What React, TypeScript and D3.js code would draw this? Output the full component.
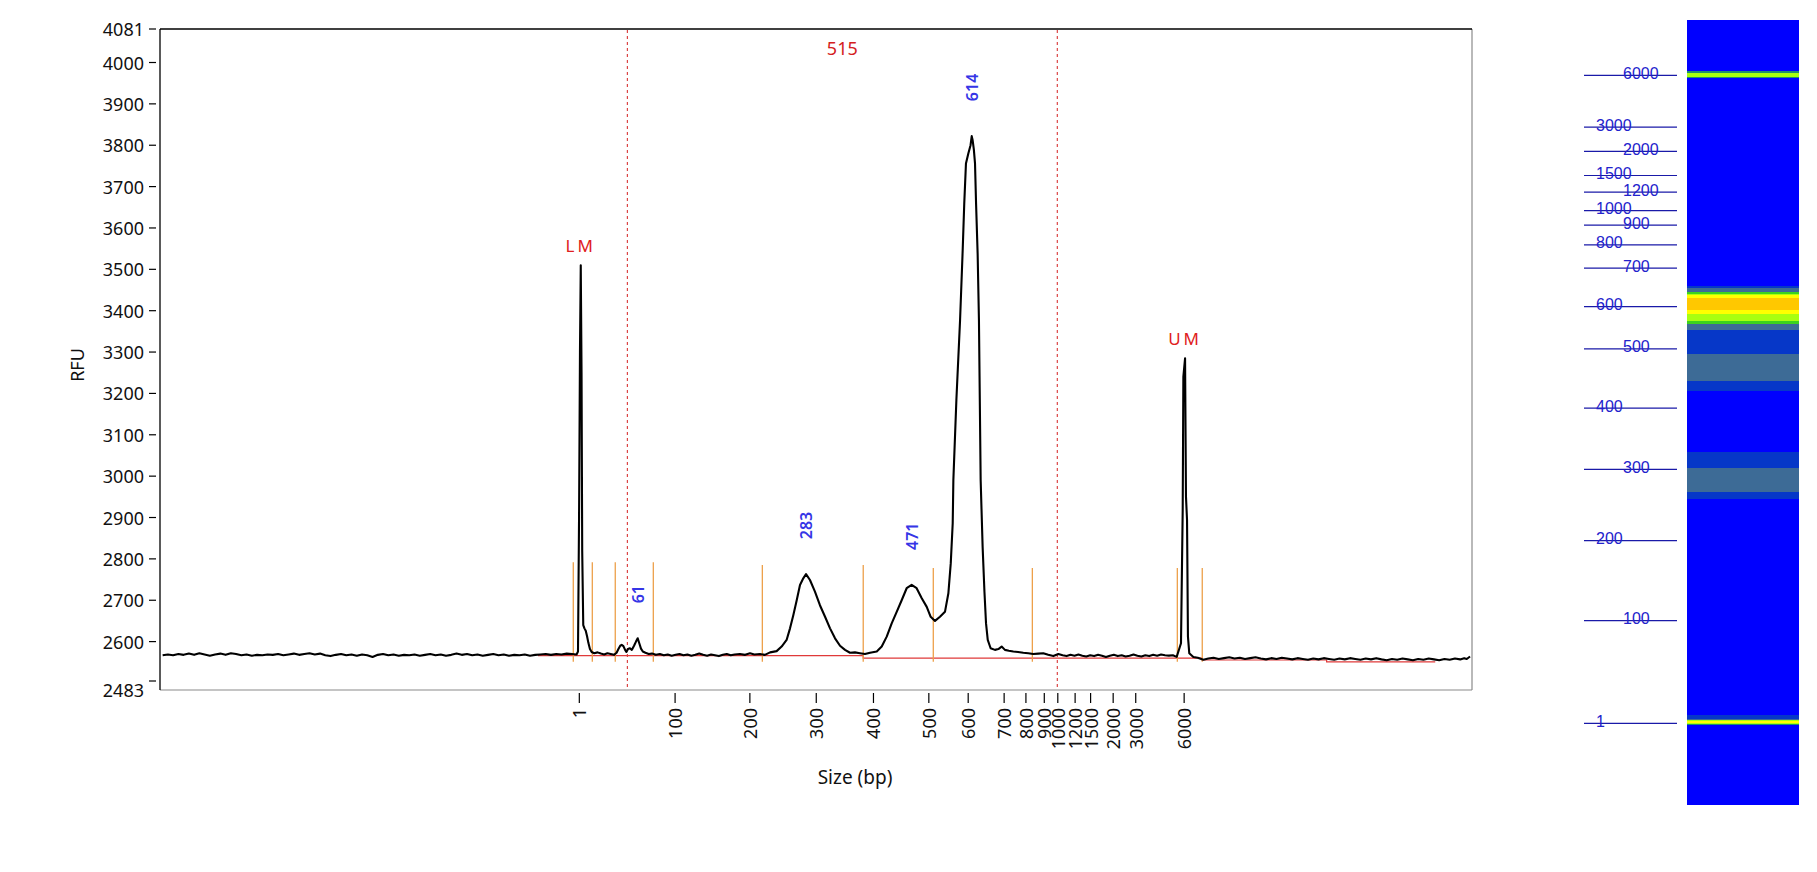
import React, { useMemo } from 'react';
import * as d3 from 'd3';

const W = 1817;
const H = 872;

// ---------- data ----------
const yTicks = [2483, 2600, 2700, 2800, 2900, 3000, 3100, 3200, 3300, 3400, 3500, 3600, 3700, 3800, 3900, 4000, 4081];

const ladderSizes = [1, 100, 200, 300, 400, 500, 600, 700, 800, 900, 1000, 1200, 1500, 2000, 3000, 6000];
const ladderTimes = [319.6, 392.6, 449.6, 500.2, 543.8, 586, 616, 643.4, 660, 674, 684.3, 697.5, 709.3, 726.5, 743.7, 780.6];

// electropherogram trace: [migration time (data points), RFU]
const trace: [number, number][] = [
  [2, 2567], [6, 2569], [10, 2567], [14, 2570], [18, 2568], [22, 2571], [26, 2568], [30, 2572], [34, 2569], [38, 2566],
  [42, 2569], [46, 2571], [50, 2568], [54, 2572], [58, 2570], [62, 2567], [66, 2569], [70, 2566], [74, 2568], [78, 2567],
  [82, 2569], [86, 2568], [90, 2570], [94, 2567], [98, 2569], [102, 2571], [106, 2568], [110, 2570], [114, 2572], [118, 2569],
  [122, 2571], [126, 2567], [130, 2565], [134, 2568], [138, 2570], [142, 2567], [146, 2569], [150, 2566], [154, 2569], [158, 2567],
  [162, 2563], [166, 2568], [170, 2570], [174, 2567], [178, 2569], [182, 2566], [186, 2568], [190, 2567], [194, 2569], [198, 2566],
  [202, 2568], [206, 2570], [210, 2567], [214, 2569], [218, 2566], [222, 2568], [226, 2571], [230, 2568], [234, 2570], [238, 2567],
  [242, 2569], [246, 2566], [250, 2568], [254, 2570], [258, 2567], [262, 2569], [266, 2566], [270, 2568], [274, 2567], [278, 2569],
  [282, 2566], [286, 2568], [290, 2569], [294, 2570], [298, 2568], [302, 2570], [306, 2569], [310, 2571], [314, 2570],
  [317.5, 2569], [318.6, 2576], [319.4, 2900], [320.1, 3300], [320.7, 3510], [321.3, 3250], [321.8, 2820], [322.6, 2640],
  [323.5, 2632], [324.5, 2626], [325.5, 2613], [326.5, 2597], [327.7, 2582], [329, 2575], [331, 2572], [333.5, 2574],
  [336, 2571], [338.5, 2569], [341, 2572], [343.5, 2570], [346, 2568], [348, 2573], [349.4, 2582], [350.8, 2590],
  [351.9, 2592], [353.2, 2589], [354.5, 2580], [355.5, 2575], [356.7, 2582], [358.2, 2584], [359.6, 2580], [361.3, 2590],
  [362.8, 2600], [364.1, 2608], [365.3, 2596], [366.6, 2583], [368, 2576], [370, 2573], [372.5, 2570], [375, 2571], [378, 2568],
  [381, 2570], [384, 2567], [387, 2569], [390, 2566], [393, 2568], [396, 2570], [399, 2567], [402, 2569], [405, 2566], [408, 2568],
  [411, 2571], [414, 2568], [417, 2566], [420, 2569], [423, 2567], [426, 2565], [429, 2568], [432, 2570], [435, 2567], [438, 2569],
  [442, 2570], [446, 2568], [449.7, 2572], [453, 2569], [457.3, 2570], [461, 2568], [465, 2574], [470, 2577], [473.8, 2588],
  [477.6, 2604], [480.2, 2632], [482.7, 2664], [485.3, 2700], [487.8, 2737], [490.3, 2753], [492.4, 2763], [495.4, 2749],
  [499.2, 2721], [503, 2688], [506.9, 2660], [510.7, 2632], [514.5, 2608], [518.3, 2590], [522.1, 2580], [525.9, 2573],
  [529.7, 2574], [533.5, 2572], [537.3, 2570], [541.2, 2573], [546.3, 2576], [550.1, 2588], [553.9, 2612], [557.7, 2644],
  [561.5, 2672], [565.3, 2700], [569.1, 2729], [572.9, 2737], [576.7, 2729], [580.6, 2705], [584.4, 2684], [587.4, 2660],
  [590.7, 2650], [594.5, 2660], [598.3, 2672], [600.9, 2717], [602.7, 2789], [604.2, 2886], [604.7, 2991], [607, 3184],
  [609.8, 3377], [611.8, 3546], [613, 3659], [614.3, 3756], [616.1, 3780], [617.8, 3800], [618.7, 3822], [619.4, 3812],
  [620.3, 3790], [621.2, 3756], [622, 3659], [623.2, 3538], [624.2, 3377], [625.5, 2991], [627, 2829], [628.4, 2720],
  [629.6, 2644], [630.9, 2604], [633.1, 2584], [636.4, 2580], [639, 2582], [641.5, 2588], [644, 2580], [647, 2578],
  [650.4, 2576], [654, 2575], [658, 2573], [661.8, 2572], [665.6, 2570], [669.4, 2571], [673.2, 2572], [677, 2568],
  [680.9, 2565], [684.7, 2570], [688, 2567], [691, 2565], [694, 2568], [697, 2566], [700, 2569], [703, 2566], [706, 2564],
  [709, 2567], [712, 2565], [715, 2568], [718, 2566], [721, 2563], [724, 2566], [727, 2568], [730, 2565], [733, 2567],
  [736, 2564], [739, 2566], [742, 2569], [745, 2566], [748, 2564], [751, 2567], [754, 2565], [757, 2568], [760, 2566],
  [763, 2569], [766, 2567], [769, 2566], [772, 2567], [774.9, 2563],
  [778.2, 2596], [779.5, 2918], [780, 3240], [781.3, 3285], [782, 2950], [782.8, 2894], [783.5, 2612], [784.5, 2572],
  [787.6, 2563], [791, 2561], [795.2, 2556],
  [799, 2559], [803, 2561], [807, 2558], [811, 2560], [815, 2562], [819, 2559], [823, 2561], [827, 2558], [831, 2560],
  [835, 2562], [839, 2559], [843, 2557], [847, 2560], [851, 2558], [855, 2561], [859, 2559], [863, 2557], [867, 2560],
  [871, 2558], [875, 2556], [879, 2559], [883, 2557], [887, 2560], [891, 2558], [895, 2556], [899, 2559], [903, 2557],
  [907, 2560], [911, 2558], [915, 2556], [919, 2559], [923, 2557], [927, 2560], [931, 2557], [935, 2555], [939, 2558],
  [943, 2556], [947, 2559], [951, 2557], [955, 2555], [959, 2558], [963, 2556], [967, 2559], [971, 2557], [975, 2555],
  [979, 2558], [983, 2556], [987, 2559], [991, 2557], [994, 2560], [996, 2558], [998.5, 2564],
];

// integration baseline (red)
const peakBaseline: [number, number][] = [
  [288.1, 2566], [536, 2566], [536, 2560], [794.4, 2560], [794.4, 2555.5], [889.2, 2555.5], [889.2, 2551], [972, 2551],
];

// peak boundary markers (orange)
const boundaryTimes = [315, 329.5, 347, 376, 459.1, 536, 589.4, 664.9, 775.4, 794.4];
const boundaryTops = [2792, 2792, 2792, 2792, 2785, 2785, 2778, 2778, 2778, 2778];
const boundaryBottom = 2551;

const peakNames = ['61', '283', '471', '614'];
const peakTimes = [364.1, 492.4, 572.9, 618.7];
const peakHeights = [2608, 2763, 2737, 3822];

const markerNames = ['LM', 'UM'];
const markerTimes = [320.7, 781.3];
const markerHeights = [3510, 3285];

const regionBounds = [356.2, 683.9];
const regionLabel = '515';

const laneBaseline = 2568;
const laneThresholds = [50, 130, 300, 400, 600, 850, 1100];
const laneColors = ['#0000ff', '#0637c8', '#3d6b96', '#1f8f6c', '#3cd21e', '#a8ff10', '#ffff00', '#ffc800'];

// ---------- layout ----------
const plot = { left: 160, right: 1472, top: 29, bottom: 690 };
const lane = { left: 1687, right: 1799, top: 20, bottom: 805 };
const ladderLine = { x0: 1584, x1: 1677 };

const FONT = "'Noto Sans', 'Open Sans', sans-serif";

export default function App() {
  const x = d3.scaleLinear().domain([0, 1000]).range([plot.left, plot.right]);
  const y = d3.scaleLinear().domain([2483, 4081]).range([plot.bottom, plot.top]);
  const laneY = d3.scaleLinear().domain([ladderTimes[0], ladderTimes[ladderTimes.length - 1]]).range([723.3, 75.3]);

  const line = d3.line<[number, number]>().x(d => x(d[0])).y(d => y(d[1]));

  const color = d3.scaleThreshold<number, string>().domain(laneThresholds).range(laneColors);

  const laneRects = useMemo(() => {
    const rows: { y0: number; y1: number; c: string }[] = [];
    const win = 0.8;
    let cur: { y0: number; y1: number; c: string } | null = null;
    for (let r = lane.top; r < lane.bottom; r++) {
      const tc = laneY.invert(r + 0.5);
      let best = -Infinity;
      let nearest = trace[0];
      let nd = Infinity;
      for (const p of trace) {
        const d = Math.abs(p[0] - tc);
        if (d <= win && p[1] > best) best = p[1];
        if (d < nd) { nd = d; nearest = p; }
      }
      if (best === -Infinity) best = nearest[1];
      const c = color(best - laneBaseline);
      if (cur && cur.c === c) cur.y1 = r + 1;
      else {
        if (cur) rows.push(cur);
        cur = { y0: r, y1: r + 1, c };
      }
    }
    if (cur) rows.push(cur);
    return rows;
  }, []);

  return (
    <div style={{ position: 'absolute', left: 0, top: 0 }}>
      <svg width={W} height={H} style={{ display: 'block', background: '#fff' }} fontFamily={FONT}>
        {/* frame */}
        <line x1={plot.left} x2={plot.right} y1={plot.bottom} y2={plot.bottom} stroke="#8a8a8a" strokeWidth={1.2} />
        <line x1={plot.right} x2={plot.right} y1={plot.top} y2={plot.bottom} stroke="#8a8a8a" strokeWidth={1.2} />
        <line x1={plot.left} x2={plot.right} y1={plot.top} y2={plot.top} stroke="#000" strokeWidth={1.3} />
        <line x1={plot.left} x2={plot.left} y1={plot.top} y2={plot.bottom} stroke="#000" strokeWidth={1.3} />

        {/* y axis */}
        {yTicks.map((v, i) => {
          const ty = i === 0 ? y(v) - 9 : y(v);
          return (
            <g key={'y' + v}>
              <line x1={149} x2={156} y1={ty} y2={ty} stroke="#000" strokeWidth={1.2} />
              <text x={144} y={y(v)} textAnchor="end" dominantBaseline="central" fontSize={18} fill="#111">{v}</text>
            </g>
          );
        })}
        <text transform={`translate(77,365) rotate(-90)`} textAnchor="middle" dominantBaseline="central" fontSize={18} fill="#111">RFU</text>

        {/* x axis */}
        {ladderSizes.map((s, i) => {
          const tx = x(ladderTimes[i]);
          return (
            <g key={'x' + s}>
              <line x1={tx} x2={tx} y1={693} y2={703} stroke="#000" strokeWidth={1.2} />
              <text transform={`translate(${tx},708) rotate(-90)`} textAnchor="end" dominantBaseline="central" fontSize={18} fill="#111">{s}</text>
            </g>
          );
        })}
        <text x={855} y={784} textAnchor="middle" fontSize={19} fill="#111">Size (bp)</text>

        {/* region dashed lines */}
        {regionBounds.map(t => (
          <line key={'r' + t} x1={x(t)} x2={x(t)} y1={plot.top + 1} y2={plot.bottom - 1} stroke="#d42020" strokeWidth={1} strokeDasharray="3,3" />
        ))}
        <text x={x((regionBounds[0] + regionBounds[1]) / 2)} y={55} textAnchor="middle" fontSize={18} fill="#d42020">{regionLabel}</text>

        {/* integration baseline */}
        <path d={line(peakBaseline) || ''} fill="none" stroke="#e03a3a" strokeWidth={1.2} />

        {/* boundary markers */}
        {boundaryTimes.map((t, i) => (
          <line key={'b' + i} x1={x(t)} x2={x(t)} y1={y(boundaryTops[i])} y2={y(boundaryBottom)} stroke="#eda04a" strokeWidth={1.3} />
        ))}

        {/* trace */}
        <path d={line(trace) || ''} fill="none" stroke="#000" strokeWidth={2.1} strokeLinejoin="round" />

        {/* peak labels */}
        {peakNames.map((n, i) => (
          <text key={'p' + n} transform={`translate(${x(peakTimes[i])},${y(peakHeights[i]) - 35}) rotate(-90)`} textAnchor="start" dominantBaseline="central" fontSize={16} fontWeight={600} fill="#3535e6">{n}</text>
        ))}
        {markerNames.map((n, i) => (
          <text key={'m' + n} x={x(markerTimes[i])} y={y(markerHeights[i]) - 13} textAnchor="middle" fontSize={17} letterSpacing={3} fill="#e02020">{n}</text>
        ))}

        {/* gel lane */}
        <rect x={lane.left} y={lane.top} width={lane.right - lane.left} height={lane.bottom - lane.top} fill={laneColors[0]} />
        {laneRects.filter(r => r.c !== laneColors[0]).map((r, i) => (
          <rect key={'l' + i} x={lane.left} y={r.y0} width={lane.right - lane.left} height={r.y1 - r.y0} fill={r.c} shapeRendering="crispEdges" />
        ))}
        {ladderSizes.map((s, i) => {
          const ly = laneY(ladderTimes[i]);
          return (
            <g key={'ll' + s}>
              <line x1={ladderLine.x0} x2={ladderLine.x1} y1={ly} y2={ly} stroke="#1a1aa8" strokeWidth={1.2} />
              <text x={i % 2 === 0 ? 1596 : 1623} y={ly + 3.5} fontSize={16} fontFamily="'Liberation Sans', Arial, sans-serif" fill="#2222cc">{s}</text>
            </g>
          );
        })}
      </svg>
    </div>
  );
}
